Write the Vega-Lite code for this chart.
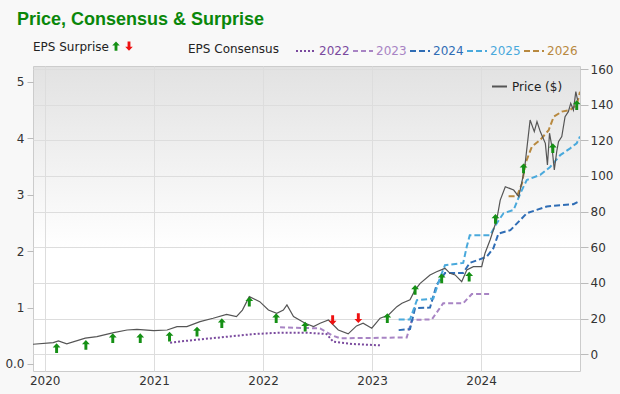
{
  "$schema": "https://vega.github.io/schema/vega-lite/v6.json",
  "width": 547,
  "height": 305,
  "autosize": {"type": "none"},
  "padding": {"left": 33, "top": 66, "right": 40, "bottom": 23},
  "background": "#f8f8f8",
  "title": {
    "text": "Price, Consensus & Surprise",
    "anchor": "start",
    "frame": "group",
    "font": "Liberation Sans",
    "fontSize": 18,
    "fontWeight": "bold",
    "color": "#0a870a",
    "dx": -16,
    "offset": 11
  },
  "config": {
    "font": "DejaVu Sans",
    "view": {
      "stroke": "#cccccc",
      "fill": {
        "gradient": "linear",
        "x1": 0, "y1": 0, "x2": 0, "y2": 1,
        "stops": [
          {"offset": 0, "color": "#e2e2e2"},
          {"offset": 0.6, "color": "#ffffff"},
          {"offset": 1, "color": "#ffffff"}
        ]
      }
    },
    "axis": {
      "labelFont": "DejaVu Sans",
      "labelFontSize": 12,
      "labelColor": "#333333",
      "labelOverlap": false,
      "domain": false,
      "tickColor": "#bbbbbb",
      "gridColor": "#dddddd",
      "title": null
    },
    "legend": {
      "titleFont": "DejaVu Sans",
      "titleFontSize": 12,
      "titleFontWeight": "normal",
      "titleColor": "#222222",
      "labelFont": "DejaVu Sans",
      "labelFontSize": 12,
      "labelFontWeight": "normal",
      "labelColor": "#222222",
      "padding": 0
    }
  },
  "datasets": {
    "price": [
      {"date": "2019-11-23", "price": 5.6},
      {"date": "2020-01-30", "price": 6.5},
      {"date": "2020-02-16", "price": 7.5},
      {"date": "2020-03-15", "price": 5.8},
      {"date": "2020-05-16", "price": 9.0},
      {"date": "2020-06-24", "price": 9.9},
      {"date": "2020-08-19", "price": 12.1},
      {"date": "2020-10-03", "price": 13.6},
      {"date": "2020-11-05", "price": 14.0},
      {"date": "2020-12-31", "price": 13.2},
      {"date": "2021-02-14", "price": 13.6},
      {"date": "2021-03-19", "price": 15.5},
      {"date": "2021-04-21", "price": 15.5},
      {"date": "2021-06-04", "price": 18.3},
      {"date": "2021-07-18", "price": 20.2},
      {"date": "2021-09-01", "price": 22.4},
      {"date": "2021-10-04", "price": 21.1},
      {"date": "2021-10-24", "price": 24.8},
      {"date": "2021-11-16", "price": 32.3},
      {"date": "2021-12-21", "price": 29.5},
      {"date": "2022-01-19", "price": 24.8},
      {"date": "2022-02-16", "price": 23.0},
      {"date": "2022-03-10", "price": 24.8},
      {"date": "2022-03-22", "price": 27.7},
      {"date": "2022-04-13", "price": 21.1},
      {"date": "2022-05-22", "price": 17.4},
      {"date": "2022-06-19", "price": 15.5},
      {"date": "2022-07-11", "price": 17.4},
      {"date": "2022-08-08", "price": 19.2},
      {"date": "2022-09-10", "price": 13.6},
      {"date": "2022-10-13", "price": 11.4},
      {"date": "2022-11-10", "price": 15.9},
      {"date": "2022-12-02", "price": 17.4},
      {"date": "2022-12-31", "price": 14.6},
      {"date": "2023-01-28", "price": 20.2},
      {"date": "2023-02-25", "price": 22.0},
      {"date": "2023-03-25", "price": 26.7},
      {"date": "2023-04-11", "price": 28.6},
      {"date": "2023-05-08", "price": 30.5},
      {"date": "2023-05-25", "price": 36.1},
      {"date": "2023-06-11", "price": 39.8},
      {"date": "2023-07-14", "price": 44.5},
      {"date": "2023-08-05", "price": 46.3},
      {"date": "2023-09-02", "price": 48.2},
      {"date": "2023-09-19", "price": 45.4},
      {"date": "2023-10-06", "price": 44.5},
      {"date": "2023-10-28", "price": 40.7},
      {"date": "2023-11-14", "price": 47.3},
      {"date": "2023-12-06", "price": 49.1},
      {"date": "2024-01-03", "price": 49.1},
      {"date": "2024-01-14", "price": 56.7},
      {"date": "2024-01-31", "price": 64.1},
      {"date": "2024-02-11", "price": 69.7},
      {"date": "2024-02-22", "price": 75.3},
      {"date": "2024-03-05", "price": 86.5},
      {"date": "2024-03-22", "price": 94.0},
      {"date": "2024-04-19", "price": 92.1},
      {"date": "2024-05-06", "price": 88.4},
      {"date": "2024-05-25", "price": 103.4},
      {"date": "2024-06-13", "price": 131.4},
      {"date": "2024-06-27", "price": 124.9},
      {"date": "2024-07-06", "price": 130.5},
      {"date": "2024-07-17", "price": 124.9},
      {"date": "2024-08-03", "price": 118.3},
      {"date": "2024-08-10", "price": 106.2},
      {"date": "2024-08-17", "price": 124.0},
      {"date": "2024-08-25", "price": 116.4},
      {"date": "2024-09-02", "price": 103.4},
      {"date": "2024-09-10", "price": 113.6},
      {"date": "2024-09-16", "price": 119.2},
      {"date": "2024-09-27", "price": 122.1},
      {"date": "2024-10-08", "price": 133.3},
      {"date": "2024-10-19", "price": 136.1},
      {"date": "2024-10-27", "price": 140.8},
      {"date": "2024-11-05", "price": 137.0},
      {"date": "2024-11-13", "price": 147.3},
      {"date": "2024-11-19", "price": 142.6}
    ],
    "surprise": [
      {"date": "2020-02-10", "price": 3.4, "type": "beat"},
      {"date": "2020-05-18", "price": 5.2, "type": "beat"},
      {"date": "2020-08-16", "price": 9.0, "type": "beat"},
      {"date": "2020-11-16", "price": 9.0, "type": "beat"},
      {"date": "2021-02-22", "price": 9.9, "type": "beat"},
      {"date": "2021-05-25", "price": 12.7, "type": "beat"},
      {"date": "2021-08-16", "price": 17.4, "type": "beat"},
      {"date": "2021-11-16", "price": 29.5, "type": "beat"},
      {"date": "2022-02-14", "price": 20.2, "type": "beat"},
      {"date": "2022-05-22", "price": 15.5, "type": "beat"},
      {"date": "2022-08-22", "price": 19.2, "type": "miss"},
      {"date": "2022-11-16", "price": 20.2, "type": "miss"},
      {"date": "2023-02-21", "price": 20.2, "type": "beat"},
      {"date": "2023-05-25", "price": 36.1, "type": "beat"},
      {"date": "2023-08-22", "price": 42.6, "type": "beat"},
      {"date": "2023-11-22", "price": 43.5, "type": "beat"},
      {"date": "2024-02-18", "price": 75.9, "type": "beat"},
      {"date": "2024-05-22", "price": 104.3, "type": "beat"},
      {"date": "2024-08-28", "price": 115.6, "type": "beat"},
      {"date": "2024-11-16", "price": 139.8, "type": "beat"}
    ],
    "cons": [
      {"year": "2022", "date": "2021-02-24", "eps": 0.377},
      {"year": "2022", "date": "2021-05-13", "eps": 0.425},
      {"year": "2022", "date": "2021-08-10", "eps": 0.47},
      {"year": "2022", "date": "2021-11-29", "eps": 0.53},
      {"year": "2022", "date": "2022-02-27", "eps": 0.555},
      {"year": "2022", "date": "2022-05-27", "eps": 0.555},
      {"year": "2022", "date": "2022-08-02", "eps": 0.53},
      {"year": "2022", "date": "2022-08-24", "eps": 0.395},
      {"year": "2022", "date": "2022-10-29", "eps": 0.354},
      {"year": "2022", "date": "2023-01-28", "eps": 0.33},
      {"year": "2023", "date": "2022-02-27", "eps": 0.65},
      {"year": "2023", "date": "2022-07-11", "eps": 0.63},
      {"year": "2023", "date": "2022-08-19", "eps": 0.51},
      {"year": "2023", "date": "2022-09-16", "eps": 0.455},
      {"year": "2023", "date": "2023-04-27", "eps": 0.47},
      {"year": "2023", "date": "2023-05-14", "eps": 0.78},
      {"year": "2023", "date": "2023-07-20", "eps": 0.79},
      {"year": "2023", "date": "2023-08-27", "eps": 1.075},
      {"year": "2023", "date": "2023-11-02", "eps": 1.075},
      {"year": "2023", "date": "2023-12-01", "eps": 1.24},
      {"year": "2023", "date": "2024-01-31", "eps": 1.24},
      {"year": "2024", "date": "2023-03-31", "eps": 0.6},
      {"year": "2024", "date": "2023-05-08", "eps": 0.62},
      {"year": "2024", "date": "2023-05-25", "eps": 0.99},
      {"year": "2024", "date": "2023-07-14", "eps": 1.0},
      {"year": "2024", "date": "2023-08-05", "eps": 1.4},
      {"year": "2024", "date": "2023-09-02", "eps": 1.61},
      {"year": "2024", "date": "2023-11-02", "eps": 1.61},
      {"year": "2024", "date": "2023-11-24", "eps": 1.79},
      {"year": "2024", "date": "2024-01-20", "eps": 1.9},
      {"year": "2024", "date": "2024-02-11", "eps": 2.05},
      {"year": "2024", "date": "2024-02-28", "eps": 2.31},
      {"year": "2024", "date": "2024-04-08", "eps": 2.37},
      {"year": "2024", "date": "2024-06-02", "eps": 2.67},
      {"year": "2024", "date": "2024-08-08", "eps": 2.79},
      {"year": "2024", "date": "2024-11-05", "eps": 2.83},
      {"year": "2024", "date": "2024-11-27", "eps": 2.89},
      {"year": "2025", "date": "2023-03-31", "eps": 0.79},
      {"year": "2025", "date": "2023-05-08", "eps": 0.79},
      {"year": "2025", "date": "2023-05-31", "eps": 1.13},
      {"year": "2025", "date": "2023-07-25", "eps": 1.16},
      {"year": "2025", "date": "2023-08-16", "eps": 1.52},
      {"year": "2025", "date": "2023-09-02", "eps": 1.75},
      {"year": "2025", "date": "2023-11-02", "eps": 1.79},
      {"year": "2025", "date": "2023-11-14", "eps": 2.08},
      {"year": "2025", "date": "2023-11-24", "eps": 2.28},
      {"year": "2025", "date": "2024-01-31", "eps": 2.28},
      {"year": "2025", "date": "2024-02-22", "eps": 2.49},
      {"year": "2025", "date": "2024-03-16", "eps": 2.67},
      {"year": "2025", "date": "2024-04-19", "eps": 2.73},
      {"year": "2025", "date": "2024-05-11", "eps": 3.02},
      {"year": "2025", "date": "2024-06-02", "eps": 3.26},
      {"year": "2025", "date": "2024-07-17", "eps": 3.35},
      {"year": "2025", "date": "2024-08-19", "eps": 3.49},
      {"year": "2025", "date": "2024-09-22", "eps": 3.7},
      {"year": "2025", "date": "2024-10-25", "eps": 3.82},
      {"year": "2025", "date": "2024-11-16", "eps": 3.91},
      {"year": "2025", "date": "2024-11-27", "eps": 4.03},
      {"year": "2026", "date": "2024-04-02", "eps": 2.97},
      {"year": "2026", "date": "2024-04-30", "eps": 2.97},
      {"year": "2026", "date": "2024-05-17", "eps": 3.2},
      {"year": "2026", "date": "2024-05-28", "eps": 3.55},
      {"year": "2026", "date": "2024-06-19", "eps": 3.85},
      {"year": "2026", "date": "2024-07-17", "eps": 3.97},
      {"year": "2026", "date": "2024-08-14", "eps": 4.14},
      {"year": "2026", "date": "2024-08-31", "eps": 4.38},
      {"year": "2026", "date": "2024-09-27", "eps": 4.47},
      {"year": "2026", "date": "2024-10-25", "eps": 4.5},
      {"year": "2026", "date": "2024-11-16", "eps": 4.59},
      {"year": "2026", "date": "2024-11-27", "eps": 4.82}
    ]
  },
  "layer": [
    {
      "data": {"name": "cons"},
      "mark": {"type": "line", "strokeWidth": 2, "clip": true},
      "encoding": {
        "x": {
          "field": "date", "type": "temporal",
          "scale": {"domain": ["2019-11-23", "2024-11-27"]},
          "axis": {
            "values": [{"year": 2020}, {"year": 2021}, {"year": 2022}, {"year": 2023}, {"year": 2024}],
            "format": "%Y", "grid": true, "ticks": false, "labelPadding": 4, "title": null
          }
        },
        "y": {
          "field": "eps", "type": "quantitative",
          "scale": {"domain": [-0.124, 5.278], "nice": false, "zero": false},
          "axis": {
            "orient": "left", "values": [0, 1, 2, 3, 4, 5], "grid": false,
            "labelExpr": "datum.value == 0 ? '0.0' : datum.label",
            "tickSize": 6, "labelPadding": 3, "title": null
          }
        },
        "stroke": {
          "field": "year", "type": "nominal",
          "scale": {
            "domain": ["2022", "2023", "2024", "2025", "2026"],
            "range": ["#7a4a9e", "#a884c4", "#2f6db5", "#49a9dc", "#b8893f"]
          },
          "legend": {
            "title": "EPS Consensus", "orient": "none", "legendX": 155, "legendY": -26,
            "direction": "horizontal", "titleOrient": "left", "titlePadding": 16,
            "symbolType": "stroke", "symbolSize": 400, "symbolStrokeWidth": 2,
            "labelOffset": 2, "columnPadding": -1,
            "encode": {
              "labels": {"update": {"fill": {"signal": "datum.value == '2022' ? '#7a4a9e' : datum.value == '2023' ? '#a884c4' : datum.value == '2024' ? '#2f6db5' : datum.value == '2025' ? '#49a9dc' : '#b8893f'"}}},
              "symbols": {"update": {"strokeDash": {"signal": "datum.value == '2022' ? [2, 2] : datum.value == '2023' ? [5, 3] : [6, 3]"}}}
            }
          }
        },
        "strokeDash": {
          "field": "year", "type": "nominal",
          "scale": {
            "domain": ["2022", "2023", "2024", "2025", "2026"],
            "range": [[2, 2], [5, 3], [6, 3], [6, 3], [6, 3]]
          },
          "legend": null
        }
      }
    },
    {
      "layer": [
        {
          "data": {"name": "price"},
          "mark": {"type": "line", "strokeWidth": 1.2, "clip": true},
          "encoding": {
            "x": {"field": "date", "type": "temporal", "scale": {"domain": ["2019-11-23", "2024-11-27"]}},
            "y": {
              "field": "price", "type": "quantitative",
              "scale": {"domain": [-9.4, 161.7], "nice": false, "zero": false},
              "axis": {
                "orient": "right", "values": [0, 20, 40, 60, 80, 100, 120, 140, 160],
                "grid": true, "tickSize": 8, "labelPadding": 2, "labelOverlap": false, "title": null
              }
            },
            "stroke": {
              "datum": "Price ($)",
              "scale": {"range": ["#555555"]},
              "legend": {
                "title": null, "orient": "none", "legendX": 458, "legendY": 12,
                "symbolType": "stroke", "symbolSize": 225, "symbolStrokeWidth": 2,
                "labelOffset": 4
              }
            }
          }
        },
        {
          "data": {"name": "surprise"},
          "mark": {"type": "point", "filled": true, "opacity": 1, "size": 95, "strokeWidth": 0},
          "encoding": {
            "x": {"field": "date", "type": "temporal"},
            "y": {
              "field": "price", "type": "quantitative",
              "axis": {
                "orient": "right", "values": [0, 20, 40, 60, 80, 100, 120, 140, 160],
                "grid": true, "tickSize": 8, "labelPadding": 2, "labelOverlap": false, "title": null
              }
            },
            "fill": {
              "field": "type", "type": "nominal",
              "scale": {"domain": ["beat", "miss"], "range": ["#159015", "#ee1111"]},
              "legend": {
                "title": "EPS Surprise", "orient": "none", "legendX": 0, "legendY": -26,
                "direction": "horizontal", "titleOrient": "left", "titlePadding": 1,
                "labelExpr": "''", "labelOffset": 0, "columnPadding": -4, "symbolSize": 90
              }
            },
            "shape": {
              "field": "type", "type": "nominal",
              "scale": {
                "domain": ["beat", "miss"],
                "range": [
                  "M0,-1L0.8,-0.15L0.3,-0.15L0.3,1L-0.3,1L-0.3,-0.15L-0.8,-0.15Z",
                  "M0,1L0.8,0.15L0.3,0.15L0.3,-1L-0.3,-1L-0.3,0.15L-0.8,0.15Z"
                ]
              },
              "legend": {
                "title": "EPS Surprise", "orient": "none", "legendX": 0, "legendY": -26,
                "direction": "horizontal", "titleOrient": "left", "titlePadding": 1,
                "labelExpr": "''", "labelOffset": 0, "columnPadding": -4, "symbolSize": 90
              }
            }
          }
        }
      ]
    }
  ],
  "resolve": {"scale": {"y": "independent", "stroke": "independent"}}
}
